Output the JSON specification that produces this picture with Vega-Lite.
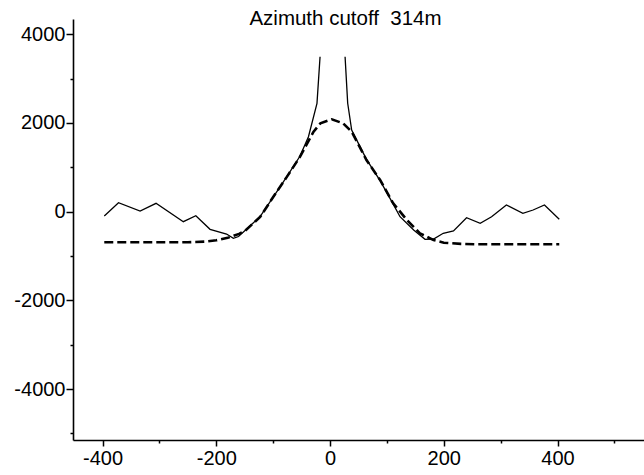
{
  "$schema": "https://vega.github.io/schema/vega-lite/v6.json",
  "width": 571,
  "height": 421,
  "autosize": {"type": "none"},
  "padding": {"left": 73, "top": 19, "right": 0, "bottom": 35},
  "background": "white",
  "title": {"text": "Azimuth cutoff\u00a0 314m", "font": "Liberation Sans", "fontSize": 20.5, "fontWeight": "normal", "anchor": "middle", "baseline": "alphabetic", "offset": 0, "dy": 26, "dx": -13, "color": "black"},
  "config": {
    "view": {"stroke": null},
    "axis": {"grid": false, "domainColor": "black", "domainWidth": 1.6, "tickColor": "black", "tickWidth": 1.5, "labelFont": "Liberation Sans", "labelFontSize": 20, "labelColor": "black", "title": null, "labelExpr": "'' + datum.value"}
  },
  "datasets": {
    "solid": [
      {"seg": "L", "x": -397, "y": -97}, {"seg": "L", "x": -372, "y": 203}, {"seg": "L", "x": -334, "y": 16},
      {"seg": "L", "x": -306, "y": 189}, {"seg": "L", "x": -258, "y": -225}, {"seg": "L", "x": -236, "y": -90},
      {"seg": "L", "x": -211, "y": -397}, {"seg": "L", "x": -182, "y": -503}, {"seg": "L", "x": -170, "y": -600},
      {"seg": "L", "x": -161, "y": -560}, {"seg": "L", "x": -149, "y": -420}, {"seg": "L", "x": -123, "y": -110},
      {"seg": "L", "x": -100, "y": 330}, {"seg": "L", "x": -76, "y": 790}, {"seg": "L", "x": -53, "y": 1250},
      {"seg": "L", "x": -38, "y": 1690}, {"seg": "L", "x": -23, "y": 2444}, {"seg": "L", "x": -17.6, "y": 3495},
      {"seg": "R", "x": 26.4, "y": 3495}, {"seg": "R", "x": 31, "y": 2444}, {"seg": "R", "x": 38, "y": 1842},
      {"seg": "R", "x": 64, "y": 1180}, {"seg": "R", "x": 88, "y": 700}, {"seg": "R", "x": 111, "y": 170},
      {"seg": "R", "x": 123, "y": -113}, {"seg": "R", "x": 147, "y": -413}, {"seg": "R", "x": 167, "y": -622},
      {"seg": "R", "x": 182, "y": -616}, {"seg": "R", "x": 199, "y": -487}, {"seg": "R", "x": 217, "y": -435},
      {"seg": "R", "x": 240, "y": -135}, {"seg": "R", "x": 264, "y": -262}, {"seg": "R", "x": 284, "y": -113},
      {"seg": "R", "x": 310, "y": 151}, {"seg": "R", "x": 339, "y": -36}, {"seg": "R", "x": 357, "y": 38},
      {"seg": "R", "x": 377, "y": 151}, {"seg": "R", "x": 403, "y": -171}
    ],
    "dashed": [
      {"x": -397, "y": -690}, {"x": -300, "y": -690}, {"x": -250, "y": -688}, {"x": -220, "y": -675},
      {"x": -200, "y": -645}, {"x": -180, "y": -590}, {"x": -160, "y": -500}, {"x": -149, "y": -425},
      {"x": -123, "y": -120}, {"x": -100, "y": 330}, {"x": -76, "y": 785}, {"x": -53, "y": 1235},
      {"x": -29, "y": 1804}, {"x": -17, "y": 1993}, {"x": 3, "y": 2083}, {"x": 23, "y": 1993},
      {"x": 38, "y": 1804}, {"x": 64, "y": 1166}, {"x": 88, "y": 715}, {"x": 111, "y": 190},
      {"x": 135, "y": -187}, {"x": 158, "y": -487}, {"x": 182, "y": -640}, {"x": 200, "y": -700},
      {"x": 230, "y": -725}, {"x": 260, "y": -735}, {"x": 403, "y": -735}
    ]
  },
  "layer": [
    {
      "data": {"name": "solid"},
      "mark": {"type": "line", "color": "black", "strokeWidth": 1.3},
      "encoding": {
        "x": {"field": "x", "type": "quantitative", "scale": {"domain": [-452, 552], "nice": false, "zero": false},
              "axis": {"orient": "bottom", "values": [-400, -200, 0, 200, 400], "tickSize": 6, "labelPadding": 2}},
        "y": {"field": "y", "type": "quantitative", "scale": {"domain": [-5148, 4345], "nice": false, "zero": false},
              "axis": {"orient": "left", "values": [-4000, -2000, 0, 2000, 4000], "tickSize": 7, "labelPadding": 1}},
        "detail": {"field": "seg"}
      }
    },
    {
      "data": {"name": "dashed"},
      "mark": {"type": "line", "color": "black", "strokeWidth": 2.6, "strokeDash": [9, 4]},
      "encoding": {
        "x": {"field": "x", "type": "quantitative",
              "axis": {"orient": "bottom", "values": [-300, -100, 100, 300, 500], "tickSize": 3, "labels": false, "domain": false}},
        "y": {"field": "y", "type": "quantitative",
              "axis": {"orient": "left", "values": [-5000, -3000, -1000, 1000, 3000], "tickSize": 3, "labels": false, "domain": false}}
      }
    }
  ],
  "resolve": {"axis": {"x": "independent", "y": "independent"}}
}
